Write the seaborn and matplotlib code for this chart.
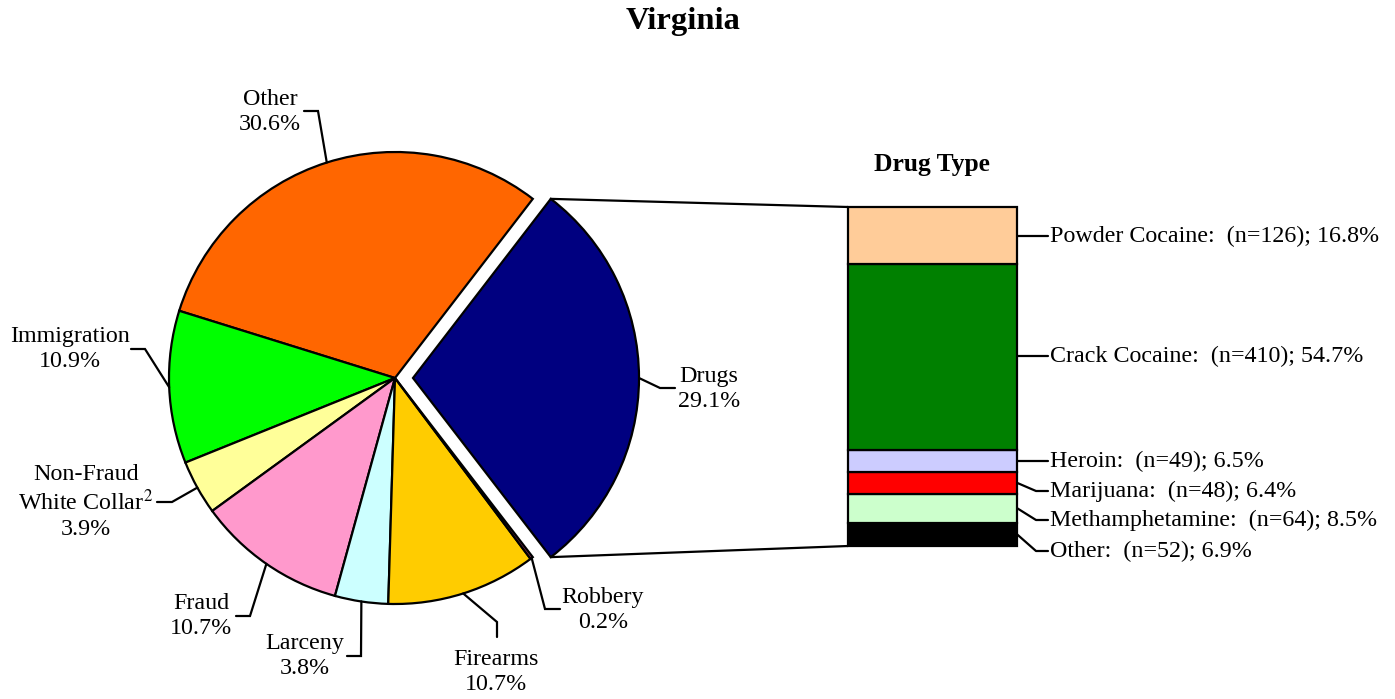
import matplotlib
matplotlib.use("Agg")
import matplotlib.pyplot as plt
from matplotlib.patches import ConnectionPatch
import seaborn as sns
import numpy as np

# offence shares, counter-clockwise starting at the Drugs slice
offences = ['Drugs', 'Other', 'Immigration', 'Non-Fraud\nWhite Collar$^{2}$',
            'Fraud', 'Larceny', 'Firearms', 'Robbery']
offence_pct = [29.1, 30.6, 10.9, 3.9, 10.7, 3.8, 10.7, 0.2]
offence_colors = ['#000080', '#FF6600', '#00FF00', '#FFFF99',
                  '#FF99CC', '#CCFFFF', '#FFCC00', '#993366']

# drug type breakdown, bottom of the stack first
drugs = ['Other', 'Methamphetamine', 'Marijuana', 'Heroin', 'Crack Cocaine', 'Powder Cocaine']
drug_n = [52, 64, 48, 49, 410, 126]
drug_pct = [6.9, 8.5, 6.4, 6.5, 54.7, 16.8]
drug_colors = ['#000000', '#CCFFCC', '#FF0000', '#CCCCFF', '#008000', '#FFCC99']

sns.set_style("white")
plt.rcParams['font.family'] = ['Liberation Serif', 'DejaVu Serif']
plt.rcParams['mathtext.fontset'] = 'stix'
plt.rcParams['text.color'] = 'black'

W, H = 1395, 699
fig = plt.figure(figsize=(W / 100, H / 100), dpi=100)
ax = fig.add_axes([0, 0, 1, 1])

#pie in pixel units
cx, cy, R = 395, H - 378, 226
start = -360 * offence_pct[0] / sum(offence_pct) / 2
wedges, _ = ax.pie(offence_pct, colors=offence_colors, startangle=start,
                   radius=R, center=(cx, cy), explode=[18] + [0] * 7,
                   wedgeprops=dict(edgecolor='black', linewidth=1.6))
for w in wedges:
    w.set_clip_on(False)
ax.set_xlim(0, W)
ax.set_ylim(0, H)
ax.set_aspect('equal')
ax.axis('off')

#label layout (pixels from top-left)
label_pos = [(709, 389), (270, 112), (70, 349), (86, 502),
             (201, 616), (305, 656), (496, 672), (603, 610)]
leader_knee = [(660, 388), (318, 111), (145, 349), (172, 502),
               (250, 616), (361, 656), (497, 622), (545, 609)]
leader_end = [(675, 388), (304, 111), (131, 349), (157, 502),
              (236, 616), (347, 656), (497, 637), (560, 609)]

fs = 17.3
for i, w in enumerate(wedges):
    th = np.deg2rad((w.theta1 + w.theta2) / 2)
    ex = w.center[0] + w.r * np.cos(th)
    ey = w.center[1] + w.r * np.sin(th)
    kx, ky = leader_knee[i]
    tx, ty = leader_end[i]
    ax.plot([ex, kx, tx], [ey, H - ky, H - ty], color='black', lw=1.6,
            solid_joinstyle='miter', clip_on=False)
    px, py = label_pos[i]
    ax.text(px, H - py, "{}\n{:.1f}%".format(offences[i], offence_pct[i]),
            ha='center', va='center', fontsize=fs, linespacing=1.25)

#stacked drug type bar
bax = fig.add_axes([848 / W, (H - 546) / H, 169 / W, 339 / H])
bottoms = np.concatenate([[0], np.cumsum(drug_pct)[:-1]])
bars = bax.bar([0] * len(drug_pct), drug_pct, bottom=bottoms, width=1,
               color=drug_colors, edgecolor='black', linewidth=1.6)
for b in bars:
    b.set_clip_on(False)
bax.set_xlim(-0.5, 0.5)
bax.set_ylim(0, sum(drug_pct))
bax.axis('off')

#lines from the exploded slice to the bar
dw = wedges[0]
for ang, yb in [(dw.theta2, sum(drug_pct)), (dw.theta1, 0)]:
    a = np.deg2rad(ang)
    corner = (dw.center[0] + dw.r * np.cos(a), dw.center[1] + dw.r * np.sin(a))
    con = ConnectionPatch(xyA=corner, coordsA=ax.transData, xyB=(-0.5, yb),
                          coordsB=bax.transData, color='black', lw=1.6)
    fig.add_artist(con)

#drug labels
drug_label_y = [551, 520, 491, 461, 356, 236]
fig.canvas.draw()
for i in range(len(drugs)):
    mid = bax.transData.transform((0.5, bottoms[i] + drug_pct[i] / 2))
    mx, my = ax.transData.inverted().transform(mid)
    ty = H - drug_label_y[i]
    if abs(my - ty) < 4:
        my = ty
    ax.plot([mx, 1036, 1048], [my, ty, ty], color='black', lw=1.6, clip_on=False)
    ax.text(1050, ty, "{}:  (n={}); {}%".format(drugs[i], drug_n[i], drug_pct[i]),
            ha='left', va='center', fontsize=fs)

ax.text(932, H - 165, 'Drug Type', ha='center', va='center', fontsize=18.4, weight='bold')
ax.text(683, H - 22, 'Virginia', ha='center', va='center', fontsize=23.4, weight='bold')

plt.savefig('out.png', dpi=100)
